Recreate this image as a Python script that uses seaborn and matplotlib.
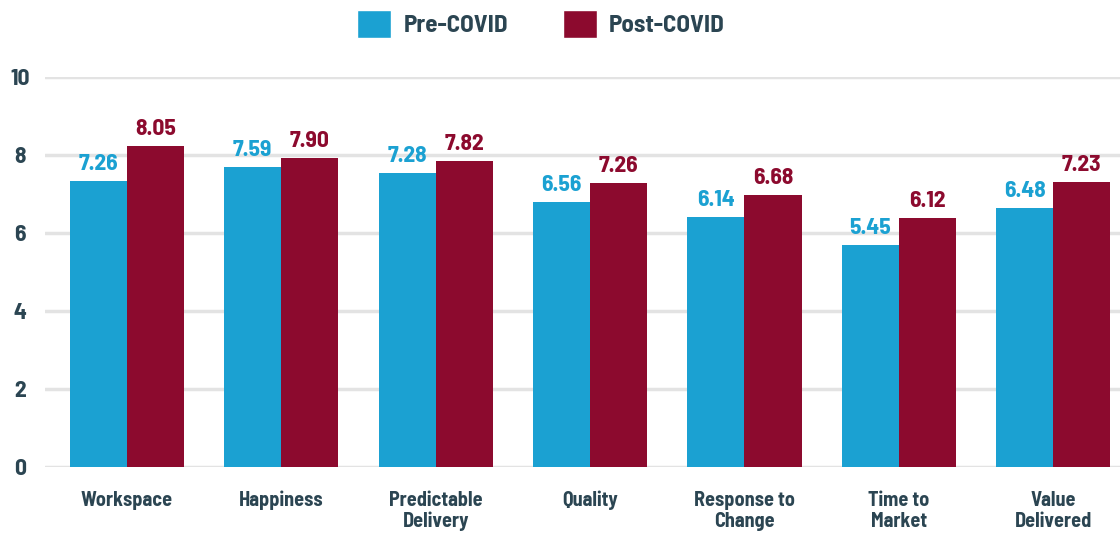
import matplotlib
matplotlib.use("Agg")
import matplotlib.pyplot as plt
import pandas as pd
import seaborn as sns
from matplotlib.patches import Patch

categories = ["Workspace", "Happiness", "Predictable\nDelivery", "Quality",
              "Response to\nChange", "Time to\nMarket", "Value\nDelivered"]
# bar heights as drawn in the picture
pre_heights = [7.33, 7.69, 7.54, 6.79, 6.41, 5.69, 6.64]
post_heights = [8.23, 7.92, 7.85, 7.28, 6.97, 6.38, 7.31]
# numbers printed above the bars
pre_labels = ["7.26", "7.59", "7.28", "6.56", "6.14", "5.45", "6.48"]
post_labels = ["8.05", "7.90", "7.82", "7.26", "6.68", "6.12", "7.23"]
series = ["Pre-COVID", "Post-COVID"]
y_ticks = [0, 2, 4, 6, 8, 10]

BLUE = "#1BA1D2"
RED = "#8C0A2E"
INK = "#2B4552"
GRID = "#E3E3E3"
FONT = ["Barlow Semi Condensed", "DejaVu Sans"]

sns.set_theme(style="white")
plt.rcParams["font.family"] = FONT

df = pd.DataFrame({
    "category": categories * 2,
    "score": pre_heights + post_heights,
    "period": [series[0]] * len(categories) + [series[1]] * len(categories),
})

fig = plt.figure(figsize=(11.2, 5.35), dpi=100)
ax = fig.add_axes([0.0402, 0.127, 0.96, 0.729])

sns.barplot(data=df, x="category", y="score", hue="period", order=categories,
            hue_order=series, palette=[BLUE, RED], width=0.74, saturation=1,
            linewidth=0, legend=False, ax=ax)

for container, labels, color in zip(ax.containers, [pre_labels, post_labels], [BLUE, RED]):
    ax.bar_label(container, labels=labels, padding=5, color=color,
                 fontsize=17, fontweight="bold")

ax.set_ylim(0, 10)
ax.set_xlim(-0.531, 6.434)
ax.set_yticks(y_ticks)
ax.yaxis.grid(True, color=GRID, linewidth=2.5)
ax.set_axisbelow(True)
for spine in ax.spines.values():
    spine.set_visible(False)
ax.set_xlabel("")
ax.set_ylabel("")
ax.tick_params(axis="y", length=0, pad=18, labelsize=17, labelcolor=INK)
ax.tick_params(axis="x", length=0, pad=17, labelsize=14.5, labelcolor=INK)
for lbl in ax.get_xticklabels():
    lbl.set_fontweight("bold")
    lbl.set_linespacing(1.15)
for lbl in ax.get_yticklabels():
    lbl.set_fontweight("bold")
    lbl.set_horizontalalignment("center")

handles = [Patch(facecolor=BLUE, label=series[0]), Patch(facecolor=RED, label=series[1])]
fig.legend(handles=handles, loc="center", bbox_to_anchor=(541 / 1120, 1 - 24 / 535),
           ncol=2, frameon=False, handlelength=1.35, handleheight=1.35,
           handletextpad=0.5, columnspacing=2.2, labelcolor=INK,
           prop={"family": FONT, "weight": "bold", "size": 18})

fig.savefig("out.png", dpi=100, facecolor="white")
